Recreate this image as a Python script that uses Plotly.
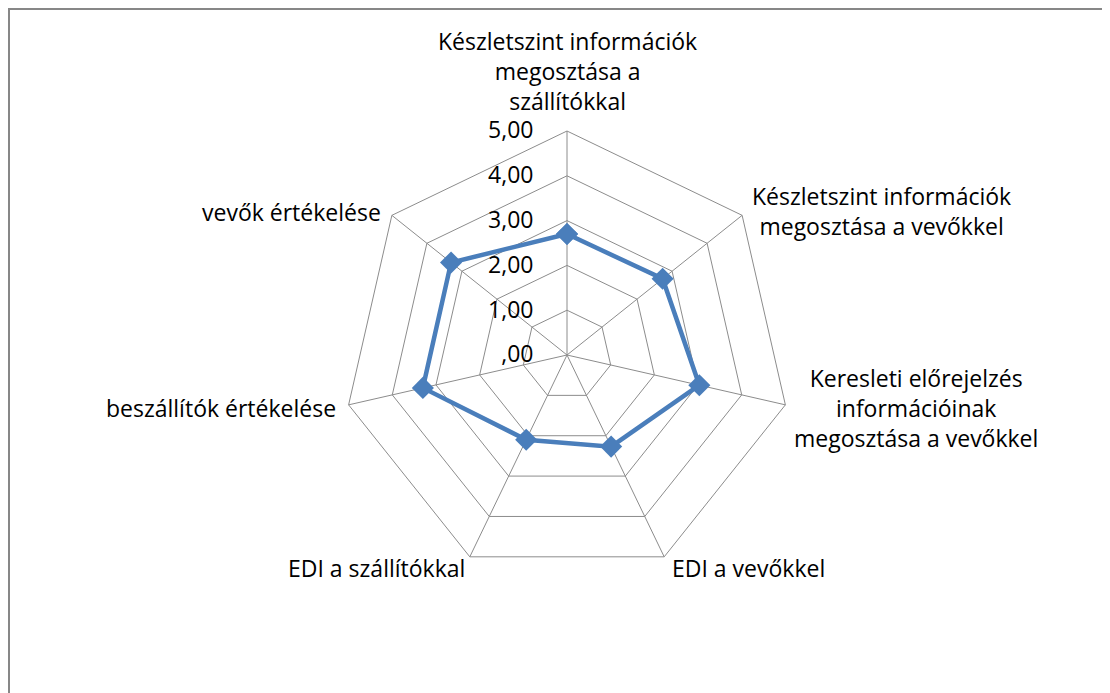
import plotly.graph_objects as go

categories = [
    "Készletszint információk<br>megosztása a<br>szállítókkal",
    "Készletszint információk<br>megosztása a vevőkkel",
    "Keresleti előrejelzés<br>információinak<br>megosztása a vevőkkel",
    "EDI a vevőkkel",
    "EDI a szállítókkal",
    "beszállítók értékelése",
    "vevők értékelése",
]
values = [2.70, 2.73, 3.03, 2.27, 2.10, 3.30, 3.31]
tick_vals = [0, 1, 2, 3, 4, 5]
tick_text = [",00", "1,00", "2,00", "3,00", "4,00", "5,00"]

# label block centres in page pixels (x from left, y from top)
label_pos = [(567, 71), (881, 211), (916, 408), (748, 568),
             (376, 568), (221, 408), (291, 212)]

W, H = 1110, 693
OFF = 8  # page body margin
blue = "#4A7EBB"
grid = "#8C8C8C"
font_family = "Open Sans, Noto Sans, sans-serif"
fs = 23

fig = go.Figure()
fig.add_trace(go.Scatterpolar(
    r=values + values[:1],
    theta=categories + categories[:1],
    mode="lines+markers",
    line=dict(color=blue, width=4.5),
    marker=dict(symbol="diamond", size=17, color=blue),
    showlegend=False,
))

annotations = []
for text, (px, py) in zip(categories, label_pos):
    annotations.append(dict(
        text=text, x=(px - OFF) / W, y=1 - (py - OFF) / H,
        xref="paper", yref="paper",
        xanchor="center", yanchor="middle", showarrow=False, align="center",
        font=dict(family=font_family, size=fs, color="black"),
    ))

cx, cy, R = 567 - OFF, 355 - OFF, 224
fig.update_layout(
    width=W, height=H,
    margin=dict(l=0, r=0, t=0, b=0),
    paper_bgcolor="white",
    plot_bgcolor="white",
    font=dict(family=font_family, size=fs, color="black"),
    polar=dict(
        domain=dict(x=[(cx - R) / W, (cx + R) / W],
                    y=[1 - (cy + R) / H, 1 - (cy - R) / H]),
        bgcolor="white",
        gridshape="linear",
        radialaxis=dict(
            range=[0, 5],
            tickvals=tick_vals,
            ticktext=tick_text,
            angle=90,
            tickangle=90,
            side="counterclockwise",
            showline=False,
            ticks="outside",
            ticklen=25,
            tickcolor="rgba(0,0,0,0)",
            gridcolor=grid,
            gridwidth=1,
            tickfont=dict(size=fs, color="black"),
        ),
        angularaxis=dict(
            direction="clockwise",
            rotation=90,
            showline=True,
            linecolor=grid,
            linewidth=1,
            gridcolor=grid,
            gridwidth=1,
            ticks="",
            showticklabels=False,
        ),
    ),
    annotations=annotations,
    shapes=[dict(
        type="rect", xref="paper", yref="paper",
        x0=1 / W, x1=1.01, y0=-0.01, y1=1 - 1 / H,
        line=dict(color="#878787", width=2),
    )],
)

fig.write_html("out.html")
